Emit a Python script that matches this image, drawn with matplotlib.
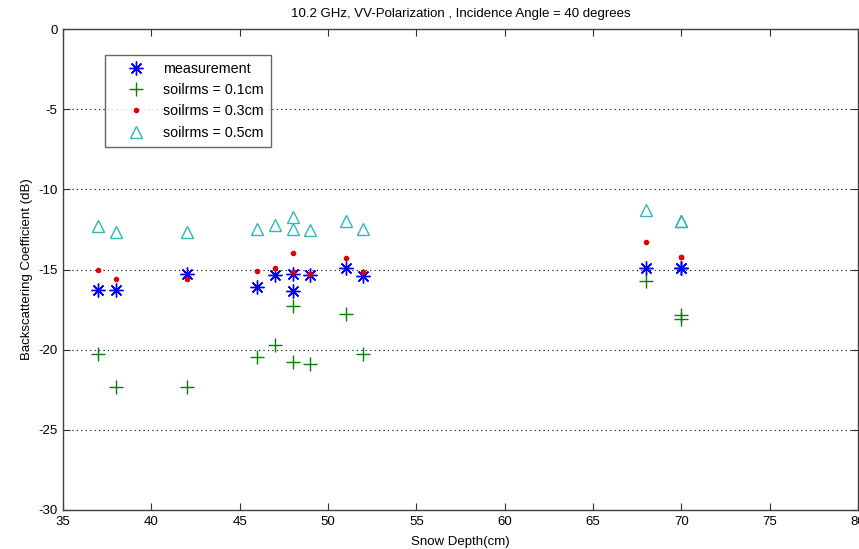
import matplotlib
matplotlib.use("Agg")
import matplotlib.pyplot as plt

plt.rcParams['font.family'] = ['Liberation Sans', 'DejaVu Sans']
plt.rcParams['axes.unicode_minus'] = False

snow_depth = [37, 38, 42, 46, 47, 48, 48, 49, 51, 52, 68, 70, 70]
measurement = [-16.3, -16.3, -15.3, -16.1, -15.35, -15.25, -16.35, -15.35, -14.9, -15.4, -14.9, -14.9, -14.9]
soilrms_01 = [-20.3, -22.35, -22.35, -20.45, -19.7, -17.3, -20.75, -20.9, -17.8, -20.3, -15.7, -17.85, -18.1]
soilrms_03 = [-15.05, -15.6, -15.6, -15.1, -14.9, -13.95, -15.15, -15.3, -14.3, -15.15, -13.3, -14.25, -14.25]
soilrms_05 = [-12.3, -12.65, -12.65, -12.45, -12.25, -11.7, -12.45, -12.55, -12.0, -12.5, -11.3, -11.95, -11.95]

labels = ['measurement', 'soilrms = 0.1cm', 'soilrms = 0.3cm', 'soilrms = 0.5cm']
title = '10.2 GHz, VV-Polarization , Incidence Angle = 40 degrees'
xticks = [35, 40, 45, 50, 55, 60, 65, 70, 75, 80]
yticks = [-30, -25, -20, -15, -10, -5, 0]

fig = plt.figure(figsize=(8.59, 5.49), dpi=100)
ax = fig.add_axes([63/859, 1 - 510/549, (858 - 63)/859, (510 - 29)/549])

ax.plot(snow_depth, measurement, linestyle='none', marker=(8, 2, 0), color='#0000ff',
        markersize=10, markeredgewidth=1.0, label=labels[0])
ax.plot(snow_depth, soilrms_01, linestyle='none', marker='+', color='#008000',
        markersize=10, markeredgewidth=1.0, label=labels[1])
ax.plot(snow_depth, soilrms_03, linestyle='none', marker='.', color='#e00000',
        markersize=6, label=labels[2])
ax.plot(snow_depth, soilrms_05, linestyle='none', marker='^', color='#30b8b8',
        markerfacecolor='none', markersize=9, markeredgewidth=1.0, label=labels[3])

ax.set_xlim(35, 80)
ax.set_ylim(-30, 0)
ax.set_xticks(xticks)
ax.set_yticks(yticks)
ax.tick_params(direction='in', top=True, right=True, labelsize=9.5, length=5,
               color='#303030', pad=4)
ax.yaxis.grid(True, linestyle=(0, (1, 3)), color='black', linewidth=0.8)
for s in ax.spines.values():
    s.set_color('#404040')
    s.set_linewidth(1.0)

ax.set_title(title, fontsize=9.5, pad=9)
ax.set_xlabel('Snow Depth(cm)', fontsize=9.5, labelpad=6)
ax.set_ylabel('Backscattering Coefficient (dB)', fontsize=9.5, labelpad=4)

leg = ax.legend(loc='upper left', bbox_to_anchor=((105 - 63)/795, 1 - (55 - 29)/481),
                fontsize=10.3, frameon=True, fancybox=False, edgecolor='#404040',
                borderaxespad=0, handlelength=3.4, handletextpad=0.15, labelspacing=0.5,
                borderpad=0.5)
leg.get_frame().set_linewidth(1.0)

fig.savefig('out.png', dpi=100)
